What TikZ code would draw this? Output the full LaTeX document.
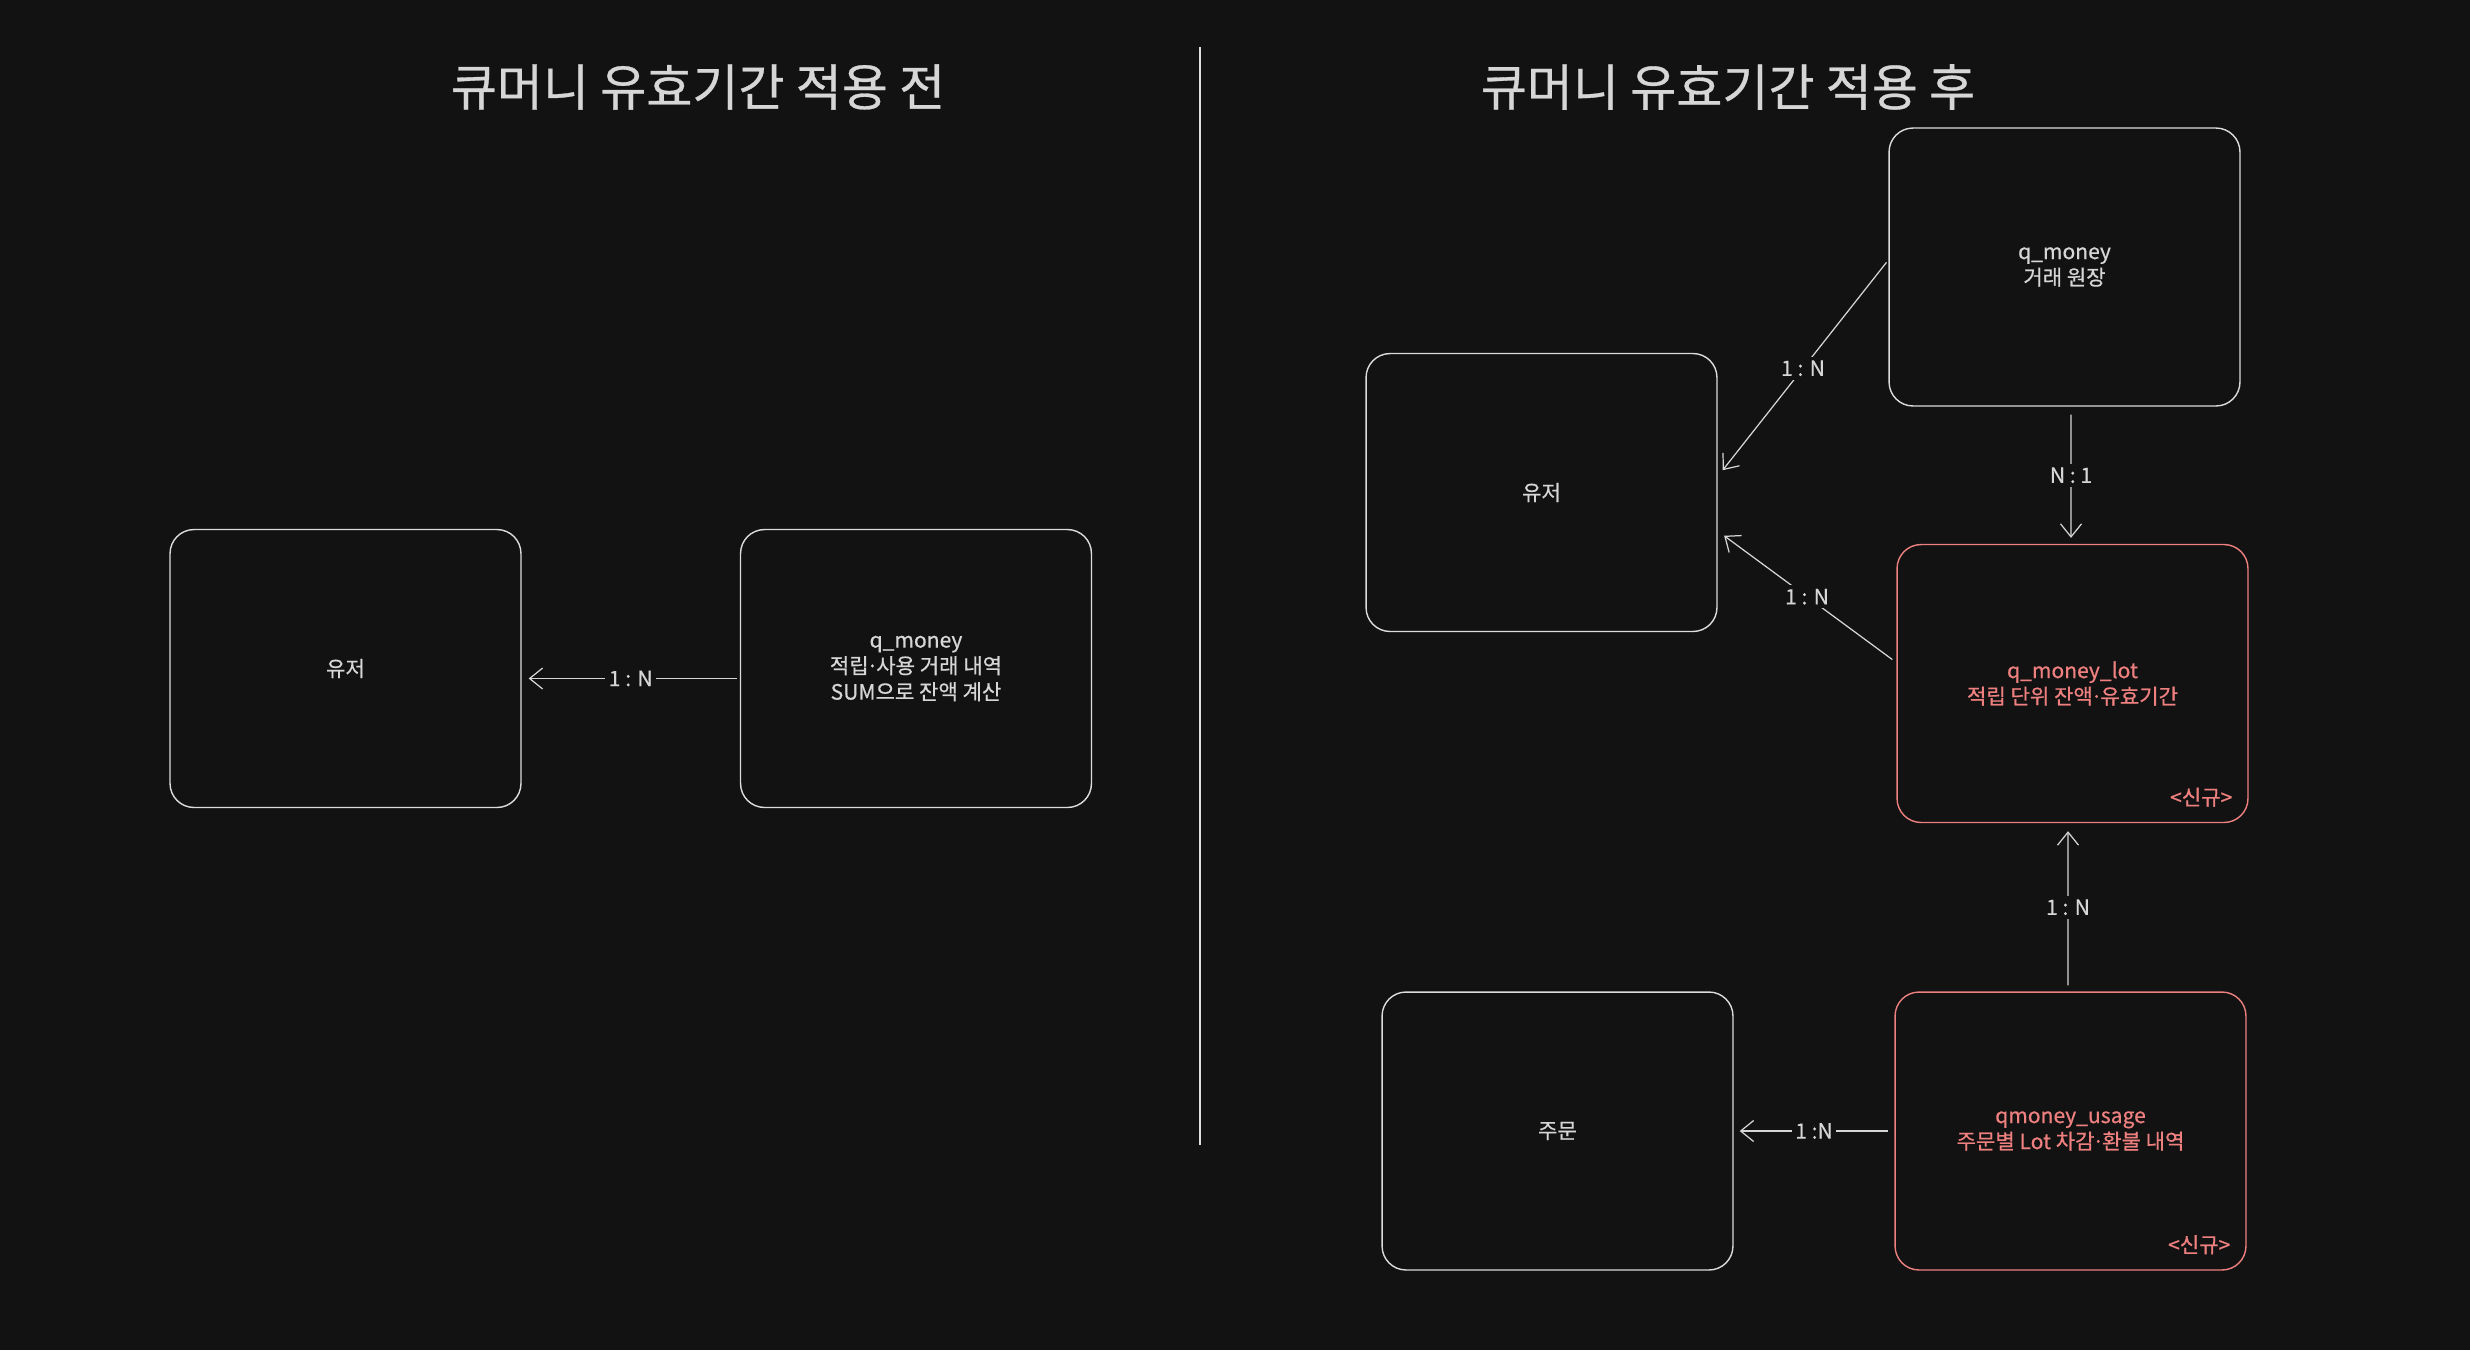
\documentclass[tikz,border=0pt]{standalone}
\usepackage{fontspec}
\setmainfont[FakeBold=0.6]{Noto Sans CJK KR}
\usepackage{tikz}
\usetikzlibrary{arrows.meta}
\definecolor{bg}{RGB}{18,18,18}
\definecolor{ink}{RGB}{214,214,214}
\definecolor{acc}{RGB}{238,128,128}
\newcommand{\mdot}{\kern-0.1em·\kern-0.1em}

\begin{document}
\begin{tikzpicture}[x=0.02cm,y=-0.02cm,
  box/.style={draw=ink!85,line width=0.8pt,rounded corners=0.48cm,
    minimum width=7.02cm,minimum height=5.56cm,text=ink,align=center,
    font=\fontsize{12}{14.8}\selectfont},
  newbox/.style={box,draw=acc,text=acc},
  rel/.style={draw=ink,line width=0.7pt,-{Straight Barb[length=2.6mm,width=4.2mm]}},
  card/.style={fill=bg,text=ink,inner sep=2pt,font=\fontsize{12}{14}\selectfont},
  tag/.style={text=acc,inner sep=0pt,anchor=east,font=\fontsize{12}{14}\selectfont},
  title/.style={text=ink,font=\fontsize{28.5}{32}\selectfont}]
  \fill[bg] (0,0) rectangle (2470,1350);

  % titles and divider
  \node[title] (tbefore) at (698,87) {큐머니 유효기간 적용 전};
  \node[title] (tafter) at (1728,87) {큐머니 유효기간 적용 후};
  \draw[ink!75,line width=0.7pt] (1200,47) -- (1200,1145);

  % before
  \node[box] (user0) at (345.5,668.5) {유저};
  \node[box] (money0) at (916,668.5) {q\_money\\적립\mdot{}사용 거래 내역\\SUM으로 잔액 계산};
  \draw[rel,shorten <=0.06cm,shorten >=0.14cm] ([yshift=-0.2cm]money0.west) -- ([yshift=-0.2cm]user0.east)
    node[card,midway]{1 : N};

  % after
  \node[box] (user) at (1541.5,492.5) {유저};
  \node[box] (money) at (2064.5,267) {q\_money\\거래 원장};
  \node[newbox] (lot) at (2072.5,683.5) {q\_money\_lot\\적립 단위 잔액\mdot{}유효기간};
  \node[box] (order) at (1557.5,1131) {주문};
  \node[newbox] (usage) at (2070.5,1131) {qmoney\_usage\\주문별 Lot 차감\mdot{}환불 내역};
  \node[tag] (lottag) at ([xshift=-0.32cm,yshift=0.52cm]lot.south east) {<신규>};
  \node[tag] (usagetag) at ([xshift=-0.32cm,yshift=0.52cm]usage.south east) {<신규>};

  \draw[rel,shorten <=0.06cm,shorten >=0.16cm] ([yshift=0.14cm]money.west) -- ([yshift=0.32cm]user.east)
    node[card,midway]{1 : N};
  \draw[rel,shorten <=0.16cm,shorten >=0.12cm] ([xshift=0.13cm]money.south) -- ([xshift=-0.03cm]lot.north)
    node[card,midway]{N : 1};
  \draw[rel,shorten <=0.1cm,shorten >=0.16cm] ([yshift=0.42cm]lot.west) -- ([yshift=-0.77cm]user.east)
    node[card,midway]{1 : N};
  \draw[rel,shorten <=0.12cm,shorten >=0.16cm] ([xshift=-0.05cm]usage.north) -- ([xshift=-0.09cm]lot.south)
    node[card,midway]{1 : N};
  \draw[rel,shorten <=0.12cm,shorten >=0.12cm] (usage.west) -- (order.east)
    node[card,midway]{1 :N};
\end{tikzpicture}
\end{document}
